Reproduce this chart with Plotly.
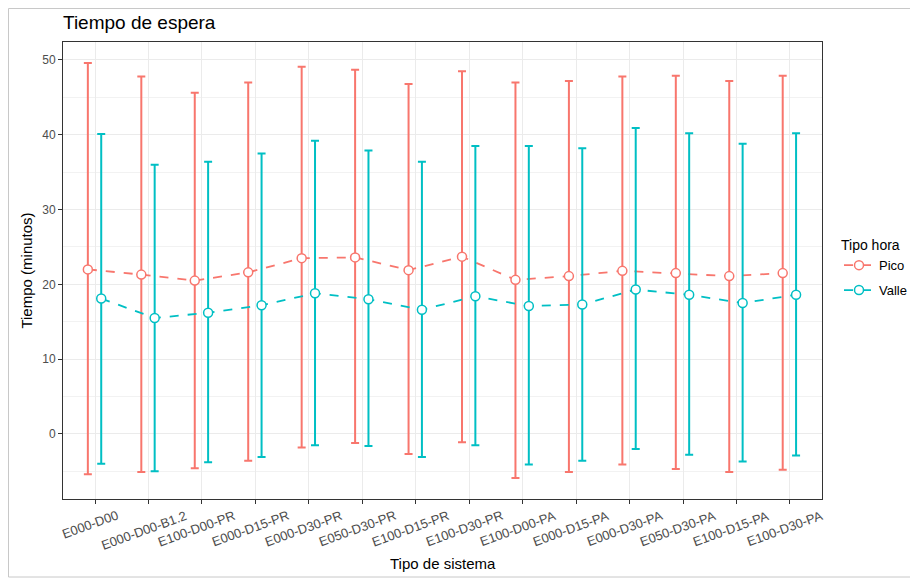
import plotly.graph_objects as go

categorias = ["E000-D00", "E000-D00-B1.2", "E100-D00-PR", "E000-D15-PR", "E000-D30-PR",
              "E050-D30-PR", "E100-D15-PR", "E100-D30-PR", "E100-D00-PA", "E000-D15-PA",
              "E000-D30-PA", "E050-D30-PA", "E100-D15-PA", "E100-D30-PA"]

pico_media = [22.0, 21.3, 20.5, 21.6, 23.5, 23.6, 21.9, 23.7, 20.6, 21.1, 21.8, 21.5, 21.1, 21.5]
pico_sup = [49.6, 47.8, 45.6, 47.0, 49.1, 48.7, 46.8, 48.5, 47.0, 47.2, 47.8, 47.9, 47.2, 47.9]
pico_inf = [-5.4, -5.1, -4.6, -3.6, -1.8, -1.2, -2.7, -1.1, -5.9, -5.1, -4.1, -4.7, -5.1, -4.8]

valle_media = [18.1, 15.5, 16.2, 17.2, 18.8, 18.0, 16.6, 18.4, 17.1, 17.3, 19.3, 18.6, 17.5, 18.6]
valle_sup = [40.1, 36.0, 36.4, 37.5, 39.2, 37.9, 36.4, 38.5, 38.5, 38.2, 40.9, 40.2, 38.8, 40.2]
valle_inf = [-4.0, -5.0, -3.8, -3.1, -1.5, -1.6, -3.1, -1.5, -4.1, -3.6, -2.0, -2.8, -3.7, -2.9]

series = [
    ("Pico", pico_media, pico_sup, pico_inf, "#F8766D", -0.135),
    ("Valle", valle_media, valle_sup, valle_inf, "#00BFC4", 0.115),
]

FONT = "Liberation Sans, Arial, sans-serif"
W, H = 910, 570          # page body has an 8px margin
ML, MR, MT, MB = 55, 96, 34, 79
PW = W - ML - MR
PH = H - MT - MB

fig = go.Figure()
for nombre, media, sup, inf, color, off in series:
    xs = [i + off for i in range(len(categorias))]
    fig.add_trace(go.Scatter(
        x=xs, y=media, mode="lines+markers", name=nombre, legendgroup=nombre,
        line=dict(color=color, width=1.8, dash="dash"),
        marker=dict(symbol="circle", size=9, color="white", line=dict(color=color, width=1.5)),
        error_y=dict(type="data", symmetric=False,
                     array=[s - m for s, m in zip(sup, media)],
                     arrayminus=[m - l for m, l in zip(media, inf)],
                     color=color, thickness=2, width=4),
        customdata=categorias,
    ))

fig.update_layout(
    width=W, height=H,
    paper_bgcolor="white", plot_bgcolor="white",
    margin=dict(l=ML, r=MR, t=MT, b=MB, autoexpand=False),
    font=dict(family=FONT, color="#000000"),
    title=dict(text="Tiempo de espera", x=ML/W, xanchor="left", y=1-14/H, yanchor="middle",
               font=dict(size=19, color="black", family=FONT)),
    legend=dict(title=dict(text="Tipo hora", font=dict(size=14, color="black")),
                font=dict(size=13, color="black"), x=1 + 17 / PW, xanchor="left",
                y=(499 - 232) / PH, yanchor="top", itemwidth=30,
                bgcolor="rgba(0,0,0,0)", tracegroupgap=5),
    xaxis=dict(range=[-0.6, len(categorias) - 0.4],
               tickmode="array", tickvals=list(range(len(categorias))), ticktext=categorias,
               showticklabels=False,
               ticks="outside", ticklen=4, tickcolor="#333333",
               showgrid=True, gridcolor="#EBEBEB", gridwidth=1, zeroline=False,
               showline=True, linecolor="#333333", linewidth=1, mirror=True),
    yaxis=dict(range=[-8.7, 52.4], tickvals=[0, 10, 20, 30, 40, 50],
               tickfont=dict(size=12, color="#4D4D4D"),
               ticks="outside", ticklen=4, tickcolor="#333333",
               showgrid=True, gridcolor="#EBEBEB", gridwidth=1, zeroline=False,
               minor=dict(tickvals=[-5, 5, 15, 25, 35, 45], showgrid=True, gridcolor="#F2F2F2", gridwidth=0.6),
               showline=True, linecolor="#333333", linewidth=1, mirror=True,
               title=dict(text="Tiempo (minutos)", font=dict(size=15, color="black"), standoff=5)),
)

# rotated category labels, centred under each tick (like ggplot angle=20)
for i, cat in enumerate(categorias):
    fig.add_annotation(x=i, xref="x", y=0, yref="paper", text=cat, showarrow=False,
                       textangle=-20, xanchor="center", yanchor="top", xshift=-5, yshift=-6,
                       font=dict(size=13, color="#4D4D4D", family=FONT))

fig.add_annotation(x=0.5, xref="paper", y=(499 - 563) / PH, yref="paper", text="Tipo de sistema",
                   showarrow=False, xanchor="center", yanchor="middle",
                   font=dict(size=15, color="black", family=FONT))

fig.add_shape(type="rect", xref="paper", yref="paper",
              x0=(0.5 - ML) / PW, x1=(904 - ML) / PW,
              y0=(PH + MT - (H - 1)) / PH, y1=(PH + MT - 0.5) / PH,
              line=dict(color="#C8C8C8", width=1), fillcolor="rgba(0,0,0,0)", layer="below")

fig.write_html("out.html")
